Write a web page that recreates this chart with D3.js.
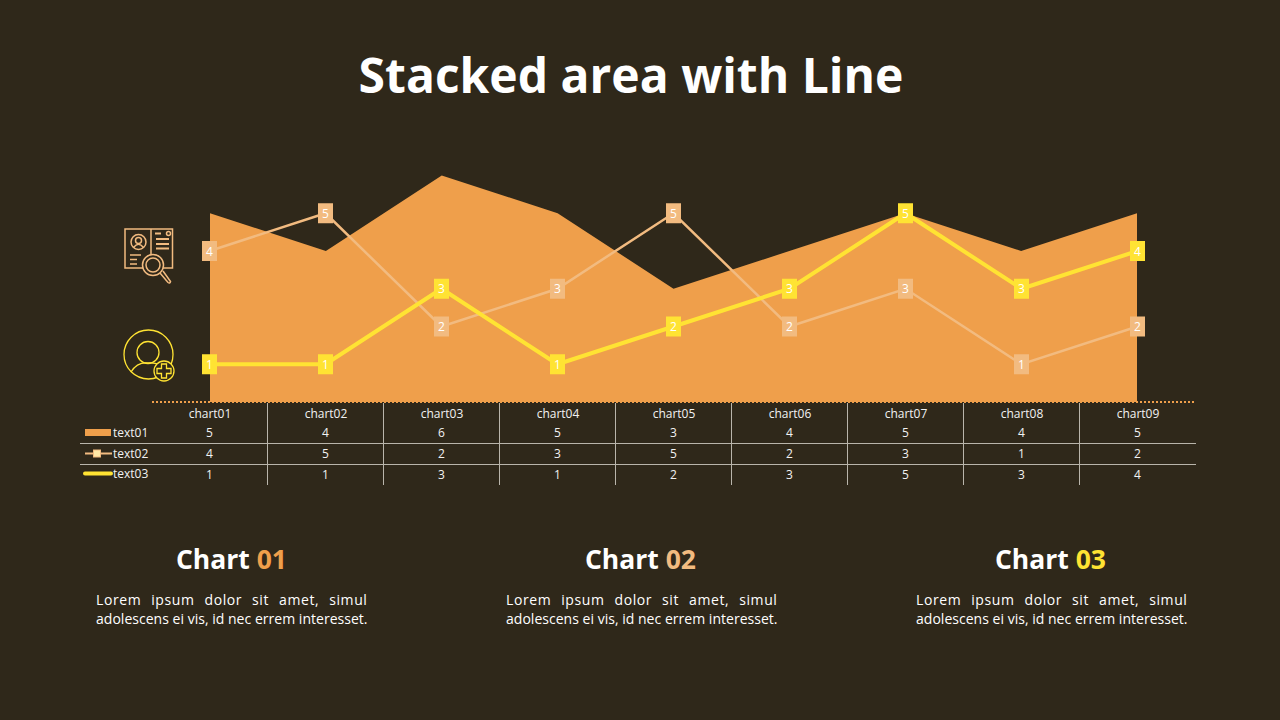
<!DOCTYPE html>
<html><head><meta charset="utf-8">
<script src="https://cdn.jsdelivr.net/npm/d3@7/dist/d3.min.js"></script>
<style>html,body{margin:0;padding:0;background:#2f281a;overflow:hidden}svg{display:block}text{font-family:"Open Sans",sans-serif}</style>
</head><body><svg id="c" width="1280" height="720"></svg>
<script>
const categories=["chart01","chart02","chart03","chart04","chart05","chart06","chart07","chart08","chart09"];
const text01=[5,4,6,5,3,4,5,4,5];
const text02=[4,5,2,3,5,2,3,1,2];
const text03=[1,1,3,1,2,3,5,3,4];
const seriesNames=["text01","text02","text03"];
const panelTitles=["Chart ","Chart ","Chart "];
const panelNums=["01","02","03"];
const panelLines=["Lorem ipsum dolor sit amet, simul","adolescens ei vis, id nec errem interesset."];
const colors=["#ef9f4b","#f2bb80","#ffe333"];
const svg=d3.select("#c");
const x=d3.scalePoint().domain(categories).range([209.5,1137.5]);
const xArea=d3.scalePoint().domain(categories).range([210,1137]);
const y=d3.scaleLinear().domain([0,6]).range([402,175.5]);
const band=x.step();

svg.append("text").attr("x",631).attr("y",93).attr("text-anchor","middle").attr("font-size",48).attr("font-weight",700).attr("fill","#fff").text("Stacked area with Line");

const area=d3.area().x((d,i)=>xArea(categories[i])).y0(y(0)).y1(d=>y(d));
svg.append("path").datum(text01).attr("d",area).attr("fill",colors[0]);
svg.append("line").attr("x1",152).attr("x2",1195).attr("y1",402).attr("y2",402).attr("stroke",colors[0]).attr("stroke-width",2).attr("stroke-dasharray","2 2");

const line=d3.line().x((d,i)=>x(categories[i])).y(d=>y(d));
function drawSeries(vals,color,w){
  svg.append("path").datum(vals).attr("d",line).attr("fill","none").attr("stroke",color).attr("stroke-width",w);
  const g=svg.append("g").selectAll("g").data(vals).join("g").attr("transform",(d,i)=>`translate(${x(categories[i])},${y(d)})`);
  g.append("rect").attr("x",-7.5).attr("y",-10).attr("width",15).attr("height",20).attr("fill",color);
  g.append("text").attr("text-anchor","middle").attr("y",4.5).attr("font-size",12).attr("fill","#fff").text(d=>d);
}
drawSeries(text02,colors[1],2.5);
drawSeries(text03,colors[2],4);

// data table
const tc="#b9b5ab";
const g=svg.append("g").attr("font-size",12).attr("fill","#f2f2f2");
categories.forEach((c,i)=>{
  const cx=x(c);
  g.append("text").attr("x",cx+0.5).attr("y",417.5).attr("text-anchor","middle").text(c);
  [text01,text02,text03].forEach((s,k)=>g.append("text").attr("x",cx).attr("y",437+k*21).attr("text-anchor","middle").text(s[i]));
  if(i<categories.length-1) svg.append("line").attr("x1",cx+band/2).attr("x2",cx+band/2).attr("y1",403).attr("y2",485).attr("stroke",tc);
});
[443.5,464.5].forEach(v=>svg.append("line").attr("x1",80).attr("x2",1196).attr("y1",v).attr("y2",v).attr("stroke",tc));
seriesNames.forEach((n,k)=>g.append("text").attr("x",113).attr("y",437+k*20.5).text(n));
svg.append("rect").attr("x",85).attr("y",429).attr("width",26).attr("height",7).attr("fill",colors[0]);
svg.append("line").attr("x1",85).attr("x2",112).attr("y1",453.5).attr("y2",453.5).attr("stroke",colors[1]).attr("stroke-width",2);
svg.append("rect").attr("x",93.5).attr("y",450).attr("width",7).attr("height",7).attr("fill","#ffe9a8").attr("stroke",colors[1]);
svg.append("line").attr("x1",85).attr("x2",111).attr("y1",473.5).attr("y2",473.5).attr("stroke",colors[2]).attr("stroke-width",4).attr("stroke-linecap","round");

// icons
const ic=svg.append("g").attr("fill","none").attr("stroke",colors[1]).attr("stroke-width",1.5);
ic.append("rect").attr("x",125).attr("y",229).attr("width",47.5).attr("height",39);
ic.append("line").attr("x1",151).attr("x2",151).attr("y1",229).attr("y2",268);
ic.append("circle").attr("cx",138.5).attr("cy",242).attr("r",7.5);
ic.append("circle").attr("cx",138.5).attr("cy",240.5).attr("r",3);
ic.append("path").attr("d","M133.5 247.5 Q138.5 241 143.5 247.5");
ic.append("path").attr("d","M130 255H141M130 259.5H137M130 264H137");
ic.append("path").attr("d","M155 233.5H161M156 239H169M156 244H169M156 248.5H169").attr("stroke-width",1.8);
ic.append("circle").attr("cx",168.5).attr("cy",233.5).attr("r",2);
ic.append("circle").attr("cx",153).attr("cy",265).attr("r",10.5).attr("fill","#2f281a");
ic.append("circle").attr("cx",153).attr("cy",265).attr("r",7);
ic.append("path").attr("d","M160 273L168 282.5Q170 284 170.5 281.5L163 271");
const iy=svg.append("g").attr("fill","none").attr("stroke",colors[2]).attr("stroke-width",1.3);
iy.append("circle").attr("cx",148.5).attr("cy",354.5).attr("r",24.5);
iy.append("circle").attr("cx",148).attr("cy",352.5).attr("r",11);
iy.append("path").attr("d","M131 372 Q137 362 148 363 Q160 362 165 370");
iy.append("circle").attr("cx",164).attr("cy",371).attr("r",10).attr("fill","#2f281a");
iy.append("path").attr("d","M161.5 364H166.5V368.5H171V373.5H166.5V378H161.5V373.5H157V368.5H161.5Z");

// panels
const panelX=[231.5,640.5,1050.5], left=[96,506,916], width=271.5;
panelX.forEach((px,i)=>{
  const t=svg.append("text").attr("x",px).attr("y",569).attr("text-anchor","middle").attr("font-size",26.5).attr("font-weight",700).attr("fill","#fff");
  t.append("tspan").text(panelTitles[i]);
  t.append("tspan").attr("fill",colors[i]).text(panelNums[i]);
  const l=svg.append("text").attr("x",left[i]).attr("y",605).attr("font-size",14).attr("letter-spacing",0.6).attr("fill","#fff").text(panelLines[0]);
  const gaps=panelLines[0].split(" ").length-1;
  l.attr("word-spacing",(width-l.node().getComputedTextLength())/gaps);
  svg.append("text").attr("x",left[i]).attr("y",624).attr("font-size",14).attr("fill","#fff").attr("textLength",width).text(panelLines[1]);
});
</script></body></html>
